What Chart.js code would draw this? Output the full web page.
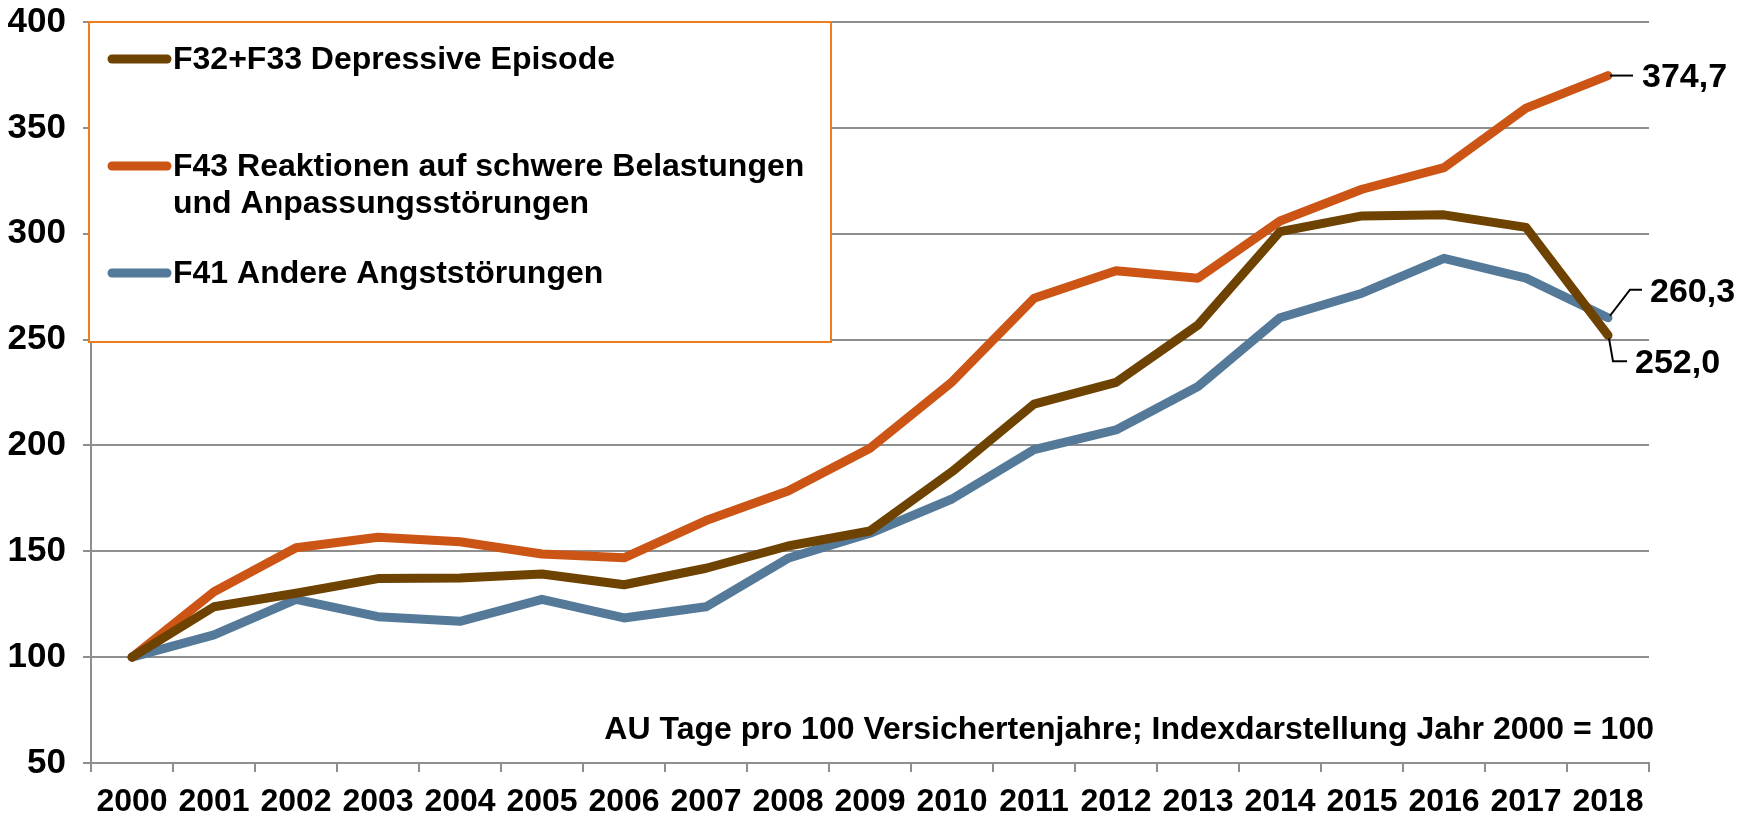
<!DOCTYPE html>
<html>
<head>
<meta charset="utf-8">
<script src="https://cdn.jsdelivr.net/npm/chart.js@4"></script>
<style>
  html, body { margin: 0; padding: 0; background: #fff; }
</style>
</head>
<body>
<canvas id="chart" width="1746" height="815"></canvas>
<script>
// Daten
const jahre = ["2000", "2001", "2002", "2003", "2004", "2005", "2006", "2007", "2008", "2009",
               "2010", "2011", "2012", "2013", "2014", "2015", "2016", "2017", "2018"];
const depressiv = [100, 123.8, 130.2, 137.1, 137.4, 139.3, 134.2, 142.0, 152.5, 159.6,
                   187.6, 219.5, 229.8, 256.9, 301.0, 308.4, 308.9, 303.0, 252.0];
const belastung = [100, 130.9, 151.7, 156.6, 154.5, 148.7, 146.9, 164.5, 178.5, 198.7,
                   230.0, 269.5, 282.5, 279.0, 306.0, 321.0, 331.2, 359.3, 374.7];
const angst = [100, 110.5, 127.3, 119.1, 116.9, 127.3, 118.5, 123.8, 146.7, 158.5,
               174.7, 198.0, 207.3, 227.8, 260.3, 271.9, 288.4, 279.0, 260.3];
const legendeTexte = [["F32+F33 Depressive Episode"],
                      ["F43 Reaktionen auf schwere Belastungen", "und Anpassungsstörungen"],
                      ["F41 Andere Angststörungen"]];
const endWerte = ["252,0", "374,7", "260,3"];
const hinweis = "AU Tage pro 100 Versichertenjahre; Indexdarstellung Jahr 2000 = 100";

const farben = ["#6E4200", "#CC5516", "#557A99"];
const familie = '"Liberation Sans", Arial, sans-serif';
const grau = "#8E8E8E";

// Legende, Hinweis und Endwerte
const extras = {
  id: "extras",
  beforeDatasetsDraw(chart) {
    const ctx = chart.ctx;
    const a = chart.chartArea;
    ctx.save();
    ctx.fillStyle = "#fff";
    ctx.fillRect(a.left - 2, a.top, 742, 320);
    ctx.strokeStyle = "#EE7D22";
    ctx.lineWidth = 2;
    ctx.strokeRect(a.left - 2, a.top, 742, 320);

    const zeilen = [[60], [167, 204], [274]];
    ctx.font = "bold 32px " + familie;
    ctx.textBaseline = "middle";
    ctx.textAlign = "left";
    legendeTexte.forEach((txt, i) => {
      const y0 = zeilen[i][0];
      ctx.strokeStyle = farben[i];
      ctx.lineWidth = 9;
      ctx.lineCap = "round";
      ctx.beginPath();
      ctx.moveTo(112, y0 - 1);
      ctx.lineTo(167, y0 - 1);
      ctx.stroke();
      ctx.fillStyle = "#000";
      txt.forEach((t, j) => ctx.fillText(t, 173, zeilen[i][j]));
    });
    ctx.restore();
  },
  afterDatasetsDraw(chart) {
    const ctx = chart.ctx;
    const a = chart.chartArea;
    ctx.save();
    ctx.font = "bold 32px " + familie;
    ctx.fillStyle = "#000";
    ctx.textBaseline = "middle";
    ctx.textAlign = "right";
    ctx.fillText(hinweis, a.right + 5, a.bottom - 33);

    const letzter = jahre.length - 1;
    // Führungslinien relativ zum letzten Punkt
    const fuehrung = [
      { pfad: [[1, 3], [5, 26], [19, 26]], text: [27, 28] },
      { pfad: [[2, 0], [25, 0]], text: [34, 2] },
      { pfad: [[2, -2], [22, -28], [34, -28]], text: [42, -25] }
    ];
    ctx.font = "bold 34px " + familie;
    ctx.textAlign = "left";
    ctx.strokeStyle = "#000";
    ctx.lineWidth = 2;
    chart.data.datasets.forEach((ds, i) => {
      const px = chart.scales.x.getPixelForValue(letzter);
      const py = chart.scales.y.getPixelForValue(ds.data[letzter]);
      const f = fuehrung[i];
      ctx.beginPath();
      f.pfad.forEach((p, k) => {
        if (k === 0) ctx.moveTo(px + p[0], py + p[1]);
        else ctx.lineTo(px + p[0], py + p[1]);
      });
      ctx.stroke();
      ctx.fillText(endWerte[i], px + f.text[0], py + f.text[1]);
    });
    ctx.restore();
  }
};

const ctx = document.getElementById("chart").getContext("2d");
new Chart(ctx, {
  type: "line",
  data: {
    labels: jahre,
    datasets: [
      { label: legendeTexte[0].join(" "), data: depressiv, borderColor: farben[0] },
      { label: legendeTexte[1].join(" "), data: belastung, borderColor: farben[1] },
      { label: legendeTexte[2].join(" "), data: angst, borderColor: farben[2] }
    ]
  },
  options: {
    responsive: false,
    animation: false,
    devicePixelRatio: 1,
    layout: { padding: { top: 22, right: 97, left: 0, bottom: 0 } },
    elements: {
      line: { borderWidth: 9, tension: 0, borderCapStyle: "round", borderJoinStyle: "round" },
      point: { radius: 0, hoverRadius: 0 }
    },
    plugins: {
      legend: { display: false },
      tooltip: { enabled: false }
    },
    scales: {
      x: {
        offset: true,
        grid: { display: true, offset: true, drawOnChartArea: false, color: grau, lineWidth: 2, tickLength: 9 },
        border: { color: grau, width: 2 },
        ticks: {
          color: "#000", font: { family: familie, size: 32, weight: "bold" },
          autoSkip: false, maxRotation: 0, padding: 11
        },
        afterFit(scale) { scale.height = 52; scale.paddingLeft = 0; scale.paddingRight = 0; }
      },
      y: {
        min: 50,
        max: 400,
        grid: { color: grau, lineWidth: 2, tickLength: 8 },
        border: { color: grau, width: 2 },
        ticks: {
          stepSize: 50, color: "#000", padding: 17,
          font: { family: familie, size: 35, weight: "bold" }
        },
        afterFit(scale) { scale.width = 91; scale.paddingTop = 0; scale.paddingBottom = 0; }
      }
    }
  },
  plugins: [extras]
});
</script>
</body>
</html>
